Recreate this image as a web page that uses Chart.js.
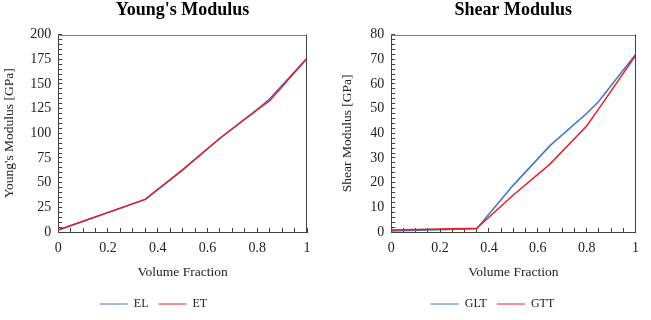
<!DOCTYPE html>
<html>
<head>
<meta charset="utf-8">
<script src="https://cdn.jsdelivr.net/npm/chart.js@4"></script>
<style>
  html, body { margin: 0; padding: 0; background: #fff; }
  #wrap { display: flex; width: 651px; height: 320px; }
  canvas { display: block; }
</style>
</head>
<body>
<div id="wrap">
  <canvas id="young" width="325" height="320"></canvas>
  <canvas id="shear" width="326" height="320"></canvas>
</div>
<script>
// volume fraction points
const volumeFraction = [0, 0.35, 0.5, 0.65, 0.8, 0.85, 1];

// Young's modulus [GPa]
const youngEL = [2, 33, 63, 95, 124, 135, 176];
const youngET = [2, 33, 63, 95, 124, 133, 176];

// Shear modulus [GPa]
const shearGLT = [0.4, 1.3, 19, 35, 48, 53, 72];
const shearGTT = [0.8, 1.5, 15, 27.5, 43, 50, 71.5];

const youngTicks = { max: 200, minor: 5, major: 25 };
const shearTicks = { max: 80, minor: 2, major: 10 };

const BLUE = '#4472c4';
const RED = '#e3202a';
const AXIS = '#404040';
const FONT = "'Liberation Serif', 'Times New Roman', serif";

Chart.defaults.font.family = FONT;
Chart.defaults.color = '#222';

function points(ys) {
  return volumeFraction.map((x, i) => ({ x: x, y: ys[i] }));
}

function isMultiple(v, step) {
  let r = v / step;
  return Math.abs(r - Math.round(r)) < 1e-6;
}

// draws the top and right edges of the plot box
const framePlugin = {
  id: 'frame',
  afterDraw(chart) {
    let a = chart.chartArea;
    let ctx = chart.ctx;
    ctx.save();
    ctx.lineWidth = 1;
    ctx.strokeStyle = '#808080';
    ctx.beginPath();
    ctx.moveTo(a.left, Math.round(a.top) + 0.5);
    ctx.lineTo(a.right, Math.round(a.top) + 0.5);
    ctx.stroke();
    ctx.strokeStyle = AXIS;
    ctx.beginPath();
    ctx.moveTo(Math.round(a.right) - 0.5, a.top);
    ctx.lineTo(Math.round(a.right) - 0.5, a.bottom);
    ctx.stroke();
    ctx.restore();
  }
};

function makeChart(id, title, yTitle, names, series, yt, padding, yTitlePad) {
  return new Chart(document.getElementById(id), {
    type: 'line',
    data: {
      datasets: [
        // red series is drawn over the blue one
        { label: names[0], data: points(series[0]), borderColor: BLUE, backgroundColor: BLUE, order: 1 },
        { label: names[1], data: points(series[1]), borderColor: RED, backgroundColor: RED, order: 0 }
      ]
    },
    options: {
      responsive: false,
      animation: false,
      layout: { padding: padding },
      elements: {
        point: { radius: 0 },
        line: { borderWidth: 1.5, tension: 0 }
      },
      scales: {
        x: {
          type: 'linear',
          min: 0,
          max: 1,
          border: { display: true, color: AXIS, width: 1 },
          grid: { drawOnChartArea: false, tickLength: -4, color: AXIS },
          ticks: {
            stepSize: 0.05,
            autoSkip: false,
            maxRotation: 0,
            padding: 12,
            font: { size: 14 },
            callback: (v) => isMultiple(v, 0.2) ? String(+v.toFixed(1)) : ''
          },
          title: {
            display: true,
            text: 'Volume Fraction',
            font: { size: 13.5 },
            padding: { top: -4, bottom: 7 }
          }
        },
        y: {
          min: 0,
          max: yt.max,
          border: { display: true, color: AXIS, width: 1 },
          grid: { drawOnChartArea: false, tickLength: -4, color: AXIS },
          ticks: {
            stepSize: yt.minor,
            autoSkip: false,
            padding: 11,
            font: { size: 14 },
            callback: (v) => isMultiple(v, yt.major) ? String(v) : ''
          },
          title: {
            display: true,
            text: yTitle,
            font: { size: 13.5 },
            padding: yTitlePad
          }
        }
      },
      plugins: {
        title: {
          display: true,
          text: title,
          fullSize: false,
          color: '#000',
          font: { size: 18, weight: 'bold' },
          padding: { top: 0, bottom: 13 }
        },
        legend: {
          position: 'bottom',
          labels: {
            usePointStyle: true,
            pointStyle: 'line',
            pointStyleWidth: 28,
            padding: 10,
            font: { size: 12 },
            sort: (a, b) => a.datasetIndex - b.datasetIndex
          }
        },
        tooltip: { enabled: false }
      }
    },
    plugins: [framePlugin]
  });
}

makeChart('young', "Young's Modulus", "Young's Modulus [GPa]", ['EL', 'ET'],
  [youngEL, youngET], youngTicks, { left: 0, right: 18, top: 0, bottom: 0 },
  { top: 1, bottom: 2 });

makeChart('shear', 'Shear Modulus', 'Shear Modulus [GPa]', ['GLT', 'GTT'],
  [shearGLT, shearGTT], shearTicks, { left: 13, right: 4, top: 0, bottom: 0 },
  { top: 1, bottom: 4 });
</script>
</body>
</html>
